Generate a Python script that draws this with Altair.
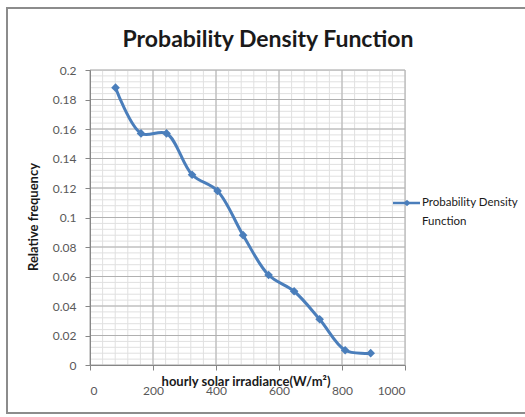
import altair as alt
import pandas as pd

irradiance = [81, 162, 243, 324, 405, 486, 567, 648, 729, 810, 891]
rel_freq = [0.188, 0.157, 0.157, 0.129, 0.118, 0.088, 0.061, 0.050, 0.031, 0.010, 0.008]
x_major = [0, 200, 400, 600, 800, 1000]
y_major = [0, 0.02, 0.04, 0.06, 0.08, 0.1, 0.12, 0.14, 0.16, 0.18, 0.2]
x_minor = list(range(0, 1001, 40))
y_minor = [round(i * 0.004, 3) for i in range(51)]

title_text = "Probability Density Function"
x_title = "hourly solar irradiance(W/m\u00b2)"
y_title = "Relative frequency"
series_name = ["Probability Density", "Function"]

FONT = "Lato"
BLUE = "#4a7ebb"

df = pd.DataFrame({"x": irradiance, "y": rel_freq})
xs = alt.Scale(domain=[0, 1000], nice=False, zero=True)
ys = alt.Scale(domain=[0, 0.2], nice=False, zero=True)

xaxis = alt.Axis(values=x_major, grid=False, title=None, domainColor="#868686", tickColor="#868686",
                 tickSize=5, labelPadding=15, labelFont=FONT, labelFontSize=12, labelColor="#595959",
                 format="d", zindex=1)
yaxis = alt.Axis(values=y_major, grid=False, title=None, domainColor="#868686", tickColor="#868686",
                 tickSize=5, labelPadding=9, labelFont=FONT, labelFontSize=12, labelColor="#595959",
                 format="~g", zindex=1)

border = alt.Chart(pd.DataFrame({"a": [0]})).mark_rect(
    fillOpacity=0, stroke="#8c8c8c", strokeWidth=2
).encode(x=alt.value(-83), x2=alt.value(460), y=alt.value(-62), y2=alt.value(343))

gx_minor = alt.Chart(pd.DataFrame({"v": x_minor})).mark_rule(color="#e0e0e0", strokeWidth=1).encode(
    x=alt.X("v:Q", scale=xs, axis=xaxis))
gy_minor = alt.Chart(pd.DataFrame({"v": y_minor})).mark_rule(color="#e0e0e0", strokeWidth=1).encode(
    y=alt.Y("v:Q", scale=ys, axis=yaxis))
gx_major = alt.Chart(pd.DataFrame({"v": x_major})).mark_rule(color="#b0b0b0", strokeWidth=1).encode(
    x=alt.X("v:Q", scale=xs, axis=xaxis))
gy_major = alt.Chart(pd.DataFrame({"v": y_major})).mark_rule(color="#b0b0b0", strokeWidth=1).encode(
    y=alt.Y("v:Q", scale=ys, axis=yaxis))

line = alt.Chart(df).mark_line(interpolate="catmull-rom", color=BLUE, strokeWidth=3).encode(
    x=alt.X("x:Q", scale=xs, axis=xaxis), y=alt.Y("y:Q", scale=ys, axis=yaxis))
pts = alt.Chart(df).mark_point(shape="diamond", filled=True, size=75, color=BLUE, opacity=1).encode(
    x=alt.X("x:Q", scale=xs, axis=xaxis), y=alt.Y("y:Q", scale=ys, axis=yaxis))

one = pd.DataFrame({"a": [0]})
title = alt.Chart(one).mark_text(text=title_text, font=FONT, fontSize=23, fontWeight="bold",
                                 color="#1a1a1a", align="center", baseline="middle").encode(
    x=alt.value(178), y=alt.value(-30))
xt = alt.Chart(one).mark_text(text=x_title, font=FONT, fontSize=13, fontWeight="bold",
                              color="#1a1a1a", align="center", baseline="middle").encode(
    x=alt.value(156), y=alt.value(312))
yt = alt.Chart(one).mark_text(text=y_title, font=FONT, fontSize=13, fontWeight="bold", angle=270,
                              color="#1a1a1a", align="center", baseline="middle").encode(
    x=alt.value(-56), y=alt.value(147))

leg_line = alt.Chart(one).mark_rule(color=BLUE, strokeWidth=2.5).encode(
    x=alt.value(303), x2=alt.value(330), y=alt.value(133))
leg_pt = alt.Chart(one).mark_point(shape="diamond", filled=True, size=45, color=BLUE, opacity=1).encode(
    x=alt.value(317), y=alt.value(133))
leg_t1 = alt.Chart(one).mark_text(text=series_name[0], font=FONT, fontSize=11.5, color="#1a1a1a",
                                  align="left", baseline="middle").encode(x=alt.value(332), y=alt.value(133))
leg_t2 = alt.Chart(one).mark_text(text=series_name[1], font=FONT, fontSize=11.5, color="#1a1a1a",
                                  align="left", baseline="middle").encode(x=alt.value(332), y=alt.value(152))

chart = alt.layer(
    gx_minor, gy_minor, gx_major, gy_major, line, pts, title, xt, yt,
    leg_line, leg_pt, leg_t1, leg_t2, border
).properties(
    width=315, height=295, autosize="none",
    padding={"left": 90, "top": 70, "right": 120, "bottom": 52}
).configure_view(stroke=None).configure(background="white")

chart.save("out.html", embed_options={"renderer": "svg", "actions": False})
